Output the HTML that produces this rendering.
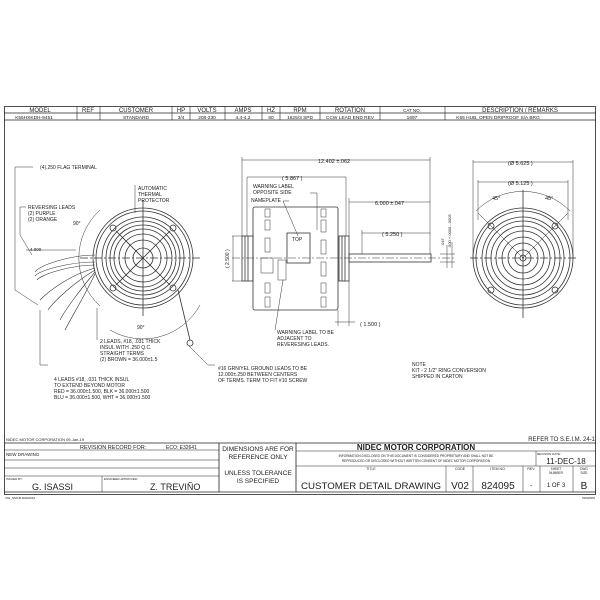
<!DOCTYPE html>
<html><head><style>
html,body{margin:0;padding:0;background:#fff;}
svg{display:block;font-family:"Liberation Sans",sans-serif;}
text{fill:#222;}
</style></head><body>
<svg width="600" height="600" viewBox="0 0 600 600" xmlns="http://www.w3.org/2000/svg">
<g stroke="#222" fill="none" stroke-width="0.8">
<rect x="4.5" y="106.5" width="591" height="388"/>
<line x1="4" y1="113" x2="596" y2="113"/>
<line x1="4" y1="120" x2="596" y2="120"/>
<g stroke-width="0.6">
<line x1="77" y1="106" x2="77" y2="120"/><line x1="100" y1="106" x2="100" y2="120"/>
<line x1="172" y1="106" x2="172" y2="120"/><line x1="190" y1="106" x2="190" y2="120"/>
<line x1="225" y1="106" x2="225" y2="120"/><line x1="262" y1="106" x2="262" y2="120"/>
<line x1="280" y1="106" x2="280" y2="120"/><line x1="320" y1="106" x2="320" y2="120"/>
<line x1="380" y1="106" x2="380" y2="120"/><line x1="445" y1="106" x2="445" y2="120"/>
</g>
<line x1="4" y1="443" x2="596" y2="443"/>
<line x1="219" y1="443" x2="219" y2="492"/>
<line x1="296" y1="443" x2="296" y2="492"/>
<line x1="4" y1="492" x2="596" y2="492"/>
<g stroke-width="0.5">
<line x1="4" y1="450" x2="219" y2="450"/><line x1="4" y1="460" x2="219" y2="460"/>
<line x1="4" y1="468" x2="219" y2="468"/><line x1="4" y1="476" x2="219" y2="476"/>
<line x1="102" y1="476" x2="102" y2="492"/>
<line x1="296" y1="451" x2="596" y2="451"/><line x1="296" y1="466" x2="596" y2="466"/>
<line x1="536" y1="451" x2="536" y2="466"/>
<line x1="446" y1="466" x2="446" y2="492"/><line x1="473" y1="466" x2="473" y2="492"/>
<line x1="523" y1="466" x2="523" y2="492"/><line x1="540" y1="466" x2="540" y2="492"/>
<line x1="573" y1="466" x2="573" y2="492"/>
</g>
</g>
<g font-size="6" text-anchor="middle">
<text x="40" y="112">MODEL</text><text x="88" y="112">REF</text><text x="136" y="112">CUSTOMER</text>
<text x="181" y="112">HP</text><text x="207" y="112">VOLTS</text><text x="243" y="112">AMPS</text>
<text x="271" y="112">HZ</text><text x="300" y="112">RPM</text><text x="350" y="112">ROTATION</text>
<text x="412" y="112" font-size="4.5">CAT NO.</text><text x="520" y="112">DESCRIPTION / REMARKS</text>
<g font-size="4.8">
<text x="34" y="119">K55HXKDH-9451</text><text x="136" y="119">STANDARD</text><text x="181" y="119">3/4</text>
<text x="207" y="119">208-230</text><text x="243" y="119">4.4-4.2</text><text x="271" y="119">60</text>
<text x="300" y="119">1625/3 SPD</text><text x="350" y="119">CCW LEAD END REV</text><text x="412" y="119">1697</text>
<text x="498" y="119">K55 HUB, OPEN DRIPROOF S/A BRG</text>
</g>
</g>
<g font-size="5">
<text x="6" y="441" font-size="4">NIDEC MOTOR CORPORATION 09-Jan-19</text>
<text x="595" y="441" text-anchor="end" font-size="6">REFER TO S.E.I.M. 24-1</text>
<text x="80" y="449" font-size="5.5">REVISION RECORD FOR:</text>
<text x="166" y="449" font-size="5">ECO: E32641</text>
<text x="6" y="456" font-size="4.5">NEW DRAWING</text>
<text x="6" y="480" font-size="3">ISSUED BY:</text>
<text x="104" y="480" font-size="3">ENGINEER APPROVED:</text>
<text x="32" y="490" font-size="9">G. ISASSI</text>
<text x="150" y="490" font-size="9">Z. TREVIÑO</text>
<g text-anchor="middle" font-size="6.5">
<text x="258" y="451">DIMENSIONS ARE FOR</text><text x="258" y="459">REFERENCE ONLY</text>
<text x="258" y="475">UNLESS TOLERANCE</text><text x="258" y="483">IS SPECIFIED</text>
<text x="416" y="450" font-size="8" font-weight="bold">NIDEC MOTOR CORPORATION</text>
<text x="416" y="457" font-size="3.2">INFORMATION DISCLOSED ON THIS DOCUMENT IS CONSIDERED PROPRIETARY AND SHALL NOT BE</text>
<text x="416" y="462" font-size="3.2">REPRODUCED OR DISCLOSED WITHOUT WRITTEN CONSENT OF NIDEC MOTOR CORPORATION</text>
<text x="371" y="470" font-size="3.5">TITLE</text>
<text x="371" y="489" font-size="9.5" textLength="140" lengthAdjust="spacingAndGlyphs">CUSTOMER  DETAIL  DRAWING</text>
<text x="460" y="470" font-size="3.5">CODE</text><text x="460" y="489" font-size="10">V02</text>
<text x="498" y="470" font-size="3.5">ITEM NO.</text><text x="498" y="489" font-size="10">824095</text>
<text x="531" y="470" font-size="3.5">REV</text><text x="531" y="488" font-size="7">-</text>
<text x="556" y="470" font-size="3.2">SHEET</text><text x="556" y="474" font-size="3.2">NUMBER</text>
<text x="556" y="487" font-size="6">1  OF  3</text>
<text x="584" y="470" font-size="3.2">DWG</text><text x="584" y="474" font-size="3.2">SIZE</text>
<text x="584" y="489" font-size="10">B</text>
<text x="566" y="464" font-size="8">11-DEC-18</text>
</g>
<text x="537" y="455" font-size="3">REVISION DATE:</text>
<text x="5" y="499" font-size="3">V02_NMCB-MAR2016</text>
<text x="595" y="499" font-size="3" text-anchor="end">5DG8000</text>
</g>

<!-- LEFT END VIEW -->
<g stroke="#333" fill="none" stroke-width="0.8">
<circle cx="143" cy="258" r="50"/>
<circle cx="143" cy="258" r="47"/>
<circle cx="143" cy="258" r="41"/>
<circle cx="143" cy="258" r="37"/>
<circle cx="143" cy="258" r="33"/>
<circle cx="143" cy="258" r="29"/>
<circle cx="143" cy="258" r="24"/>
<circle cx="143" cy="258" r="18"/>
<circle cx="143" cy="258" r="10"/>
<line x1="80" y1="258" x2="200" y2="258" stroke-dasharray="8 2 2 2"/>
<line x1="143" y1="200" x2="143" y2="316"/>
<line x1="116" y1="231" x2="170" y2="285"/><line x1="170" y1="231" x2="116" y2="285"/>
<circle cx="113" cy="228" r="3"/><circle cx="173" cy="228" r="3"/>
<circle cx="113" cy="288" r="3"/><circle cx="173" cy="288" r="3"/>
<path d="M100 210 A65 65 0 0 0 100 306" stroke-width="0.5"/>
<path d="M110 330 A65 65 0 0 0 200 305" stroke-width="0.5"/>
<path d="M95 262 C70 262 40 270 35 276 M95 265 C70 265 40 275 37 280 M95 255 C70 255 40 265 35 272 M95 268 C70 275 50 290 40 300 M95 270 C75 282 55 300 48 310 M95 272 C80 290 65 310 60 320 M95 274 C85 295 70 320 65 330" stroke-width="0.6"/>
<line x1="178" y1="290" x2="190" y2="340"/><circle cx="190" cy="343" r="3"/>
<path d="M33 167 H15 V290 L38 305" stroke-width="0.5"/>
<path d="M26 207 H20 V235 L32 255" stroke-width="0.5"/>
<path d="M135 185 V213" stroke-width="0.5"/>
<path d="M97 340 V308" stroke-width="0.5"/>
<path d="M48 365 H40 V310" stroke-width="0.5"/>
<path d="M215 365 H208 L188 345" stroke-width="0.5"/>
<line x1="26" y1="250" x2="76" y2="250" stroke-width="0.5"/>
</g>
<g font-size="5">
<text x="40" y="169">(4).250 FLAG TERMINAL</text>
<text x="138" y="190">AUTOMATIC</text><text x="138" y="196">THERMAL</text><text x="138" y="202">PROTECTOR</text>
<text x="28" y="209">REVERSING LEADS</text><text x="28" y="215">(2) PURPLE</text><text x="28" y="221">(2) ORANGE</text>
<text x="73" y="225">90°</text><text x="137" y="329">90°</text>
<text x="30" y="251" font-size="4.5">4.000</text>
<text x="100" y="343">2 LEADS, #18, .031 THICK</text><text x="100" y="349">INSUL WITH .250 Q.C.</text>
<text x="100" y="355">STRAIGHT TERMS</text><text x="100" y="361">(2) BROWN = 36.000±1.5</text>
<text x="54" y="381">4 LEADS #18, .031 THICK INSUL</text><text x="54" y="387">TO EXTEND BEYOND MOTOR</text>
<text x="54" y="393">RED = 36.000±1.500, BLK = 36.000±1.500</text>
<text x="54" y="399">BLU = 36.000±1.500, WHT = 36.000±1.500</text>
<text x="218" y="370">#16 GRN/YEL GROUND LEADS TO BE</text>
<text x="218" y="376">12.000±.250 BETWEEN CENTERS</text>
<text x="218" y="382">OF TERMS.  TERM TO FIT #10 SCREW</text>
</g>

<!-- SIDE VIEW -->
<g stroke="#333" fill="none" stroke-width="0.8">
<rect x="253" y="207" width="85" height="103" rx="2"/>
<rect x="242" y="236" width="11" height="45"/>
<line x1="245" y1="236" x2="245" y2="281"/><line x1="248" y1="236" x2="248" y2="281"/>
<rect x="339" y="236" width="10" height="45"/>
<line x1="342" y1="236" x2="342" y2="281"/><line x1="345" y1="236" x2="345" y2="281"/>
<rect x="349" y="254" width="82" height="8"/>
<rect x="287" y="233" width="23" height="30"/>
<g stroke-width="0.5">
<rect x="265" y="209" width="5" height="8"/><rect x="265" y="220" width="5" height="10"/><rect x="265" y="238" width="5" height="14"/>
<rect x="265" y="283" width="5" height="10"/><rect x="265" y="297" width="5" height="10"/>
<rect x="321" y="209" width="5" height="8"/><rect x="321" y="220" width="5" height="12"/><rect x="321" y="240" width="5" height="14"/>
<rect x="321" y="262" width="5" height="14"/><rect x="321" y="283" width="5" height="10"/><rect x="321" y="297" width="5" height="10"/>
<rect x="278" y="260" width="8" height="20"/><rect x="261" y="258" width="12" height="15"/>
<line x1="232" y1="258" x2="455" y2="258" stroke-dasharray="8 2 2 2"/>
<line x1="242" y1="157" x2="242" y2="236"/><line x1="430" y1="157" x2="430" y2="254"/>
<line x1="242" y1="160" x2="430" y2="160"/>
<line x1="247" y1="177" x2="346" y2="177"/><line x1="346" y1="177" x2="346" y2="236"/><line x1="247" y1="177" x2="247" y2="236"/>
<line x1="349" y1="202" x2="430" y2="202"/><line x1="349" y1="198" x2="349" y2="236"/>
<line x1="362" y1="233" x2="430" y2="233"/><line x1="362" y1="230" x2="362" y2="254"/>
<line x1="232" y1="236" x2="242" y2="236"/><line x1="232" y1="281" x2="242" y2="281"/><line x1="233" y1="236" x2="233" y2="281"/>
<line x1="335" y1="322" x2="355" y2="322"/><line x1="338" y1="310" x2="338" y2="326"/><line x1="349" y1="281" x2="349" y2="326"/>
<line x1="440" y1="254" x2="455" y2="254"/><line x1="440" y1="262" x2="455" y2="262"/>
<line x1="447" y1="245" x2="447" y2="268"/><line x1="452" y1="242" x2="452" y2="268"/>
<path d="M310 193 H317 V230" /><path d="M289 201 H283 L298 236"/>
<path d="M275 330 L283 280"/>
</g>
</g>
<g font-size="5">
<text x="318" y="163" font-size="5.5">12.402 ±.062</text>
<text x="282" y="180" font-size="5.5">( 5.867 )</text>
<text x="253" y="188">WARNING LABEL</text><text x="253" y="194">OPPOSITE SIDE</text>
<text x="251" y="202">NAMEPLATE</text>
<text x="292" y="241">TOP</text>
<text x="375" y="205" font-size="5.5">6.000 ±.047</text>
<text x="382" y="236" font-size="5.5">( 5.250 )</text>
<text x="360" y="326" font-size="5.5">( 1.500 )</text>
<text x="277" y="334">WARNING LABEL TO BE</text><text x="277" y="340">ADJACENT TO</text><text x="277" y="346">REVERESING LEADS.</text>
<text x="412" y="366">NOTE</text><text x="412" y="372">KIT - 2 1/2" RING CONVERSION</text><text x="412" y="378">SHIPPED IN CARTON</text>
<text transform="translate(229,268) rotate(-90)" font-size="5">( 2.500 )</text>
<text transform="translate(444,246) rotate(-90)" font-size="4">.047</text>
<text transform="translate(451,248) rotate(-90)" font-size="4">.500 +.0000 -.0005</text>
</g>

<!-- RIGHT END VIEW -->
<g stroke="#333" fill="none" stroke-width="0.8">
<circle cx="523" cy="258" r="50"/>
<circle cx="523" cy="258" r="47"/>
<circle cx="523" cy="258" r="41"/>
<circle cx="523" cy="258" r="37"/>
<circle cx="523" cy="258" r="32"/>
<circle cx="523" cy="258" r="27"/>
<circle cx="523" cy="258" r="21"/>
<circle cx="523" cy="258" r="15"/>
<circle cx="523" cy="258" r="8"/>
<circle cx="523" cy="258" r="3"/>
<line x1="470" y1="258" x2="578" y2="258" stroke-dasharray="8 2 2 2"/>
<line x1="523" y1="190" x2="523" y2="318"/>
<circle cx="491" cy="226" r="3"/><circle cx="555" cy="226" r="3"/>
<circle cx="491" cy="290" r="3"/><circle cx="555" cy="290" r="3"/>
<line x1="523" y1="258" x2="478" y2="213" stroke-width="0.5"/><line x1="523" y1="258" x2="568" y2="213" stroke-width="0.5"/>
<path d="M476 211 A66 66 0 0 1 570 211" stroke-width="0.5"/>
<line x1="473" y1="160" x2="473" y2="258" stroke-width="0.5"/><line x1="573" y1="160" x2="573" y2="258" stroke-width="0.5"/>
<line x1="473" y1="162" x2="573" y2="162" stroke-width="0.5"/>
<line x1="478" y1="182" x2="568" y2="182" stroke-width="0.5"/>
<line x1="478" y1="180" x2="478" y2="220" stroke-width="0.5"/><line x1="568" y1="180" x2="568" y2="220" stroke-width="0.5"/>
</g>
<g font-size="5.5">
<text x="508" y="165">(Ø 5.625 )</text>
<text x="508" y="185">(Ø 5.125 )</text>
<text x="492" y="200">45°</text><text x="545" y="200">45°</text>
</g>
</svg>
</body></html>
